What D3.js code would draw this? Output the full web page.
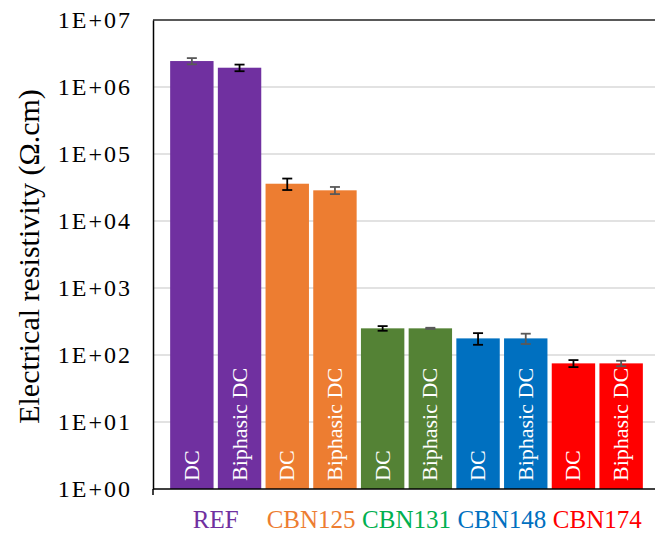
<!DOCTYPE html>
<html>
<head>
<meta charset="utf-8">
<script src="https://cdn.jsdelivr.net/npm/d3@7"></script>
<style>
  html, body { margin: 0; padding: 0; background: #fff; }
  svg { display: block; }
  svg text { font-family: "Liberation Serif", "DejaVu Serif", serif; }
</style>
</head>
<body>
<svg id="chart" width="655" height="534"></svg>
<script>
// ---- data ----
const groups = ["REF", "CBN125", "CBN131", "CBN148", "CBN174"];
const groupColors = ["#7030a0", "#ed7d31", "#548235", "#0070c0", "#ff0000"];
const groupLabelColors = ["#7030a0", "#ed7d31", "#00b050", "#0070c0", "#ff0000"];
const methods = ["DC", "Biphasic DC"];
const dcValues = [2.44e6, 3.6e4, 250, 177, 75];
const dcErrors = [0.26e6, 0.7e4, 20, 35, 9];
const biphasicValues = [1.94e6, 2.87e4, 250, 177, 75];
const biphasicErrors = [0.22e6, 0.35e4, 5, 31, 7];
const yTicks = [1e0, 1e1, 1e2, 1e3, 1e4, 1e5, 1e6, 1e7];
const yTitle = "Electrical resistivity (Ω.cm)";

(function () {
const rows = [];
groups.forEach((g, i) => {
  rows.push({id: g + "-0", group: i, method: methods[0], value: dcValues[i], err: dcErrors[i]});
  rows.push({id: g + "-1", group: i, method: methods[1], value: biphasicValues[i], err: biphasicErrors[i]});
});

const svg = d3.select("#chart");
const pL = 153, pR = 670, pT = 20, pB = 489;

const y = d3.scaleLog().domain([1, 1e7]).range([pB, pT]);
const x = d3.scaleBand().domain(rows.map(d => d.id)).range([168, 645])
  .paddingInner(0.09).paddingOuter(0.045);

// gridlines
svg.append("g").selectAll("line").data(yTicks.filter(t => t > 1 && t < 1e7)).join("line")
  .attr("x1", pL).attr("x2", pR)
  .attr("y1", d => y(d)).attr("y2", d => y(d))
  .attr("stroke", "#d9d9d9").attr("stroke-width", 1.5);

// top border
svg.append("line").attr("x1", pL).attr("x2", pR)
  .attr("y1", y(1e7)).attr("y2", y(1e7))
  .attr("stroke", "#595959").attr("stroke-width", 2);

// bars
svg.append("g").selectAll("rect").data(rows).join("rect")
  .attr("x", d => x(d.id)).attr("width", x.bandwidth())
  .attr("y", d => y(d.value)).attr("height", d => y(1) - y(d.value))
  .attr("fill", d => groupColors[d.group]);

// error bars
const eb = svg.append("g").selectAll("g").data(rows).join("g")
  .attr("stroke", (d, i) => (i === 0 ? "#595959" : (d.method === "DC" || i === 1 ? "#000" : "#595959")))
  .attr("stroke-width", 1.8);
eb.append("line")
  .attr("x1", d => x(d.id) + x.bandwidth() / 2).attr("x2", d => x(d.id) + x.bandwidth() / 2)
  .attr("y1", d => y(d.value + d.err)).attr("y2", d => y(d.value - d.err));
eb.append("line")
  .attr("x1", d => x(d.id) + x.bandwidth() / 2 - 5).attr("x2", d => x(d.id) + x.bandwidth() / 2 + 5)
  .attr("y1", d => y(d.value + d.err)).attr("y2", d => y(d.value + d.err));
eb.append("line")
  .attr("x1", d => x(d.id) + x.bandwidth() / 2 - 5).attr("x2", d => x(d.id) + x.bandwidth() / 2 + 5)
  .attr("y1", d => y(d.value - d.err)).attr("y2", d => y(d.value - d.err));

// in-bar labels
svg.append("g").selectAll("text").data(rows).join("text")
  .attr("transform", d => `translate(${x(d.id) + x.bandwidth() / 2 + 7},${pB - 8}) rotate(-90)`)
  .attr("fill", "#fff")
  .attr("font-size", 22)
  .attr("text-anchor", "start")
  .text(d => d.method);

// y axis
const yAxis = svg.append("g").attr("transform", `translate(${pL},0)`)
  .call(d3.axisLeft(y).tickValues(yTicks).tickSize(0).tickPadding(21)
    .tickFormat(d => "1E+" + String(Math.round(Math.log10(d))).padStart(2, "0")));
yAxis.attr("font-family", null);
yAxis.select(".domain").attr("stroke", "#000").attr("stroke-width", 1.5);
yAxis.selectAll("text").attr("font-size", 24).attr("letter-spacing", 2).attr("fill", "#000");

// x axis line
svg.append("line").attr("x1", pL).attr("x2", pR).attr("y1", pB).attr("y2", pB)
  .attr("stroke", "#000").attr("stroke-width", 1.5);
svg.append("line").attr("x1", pL).attr("x2", pL).attr("y1", pB).attr("y2", pB + 6)
  .attr("stroke", "#000").attr("stroke-width", 1.5);

// group labels
svg.append("g").selectAll("text").data(groups).join("text")
  .attr("x", g => (x(g + "-0") + x(g + "-1") + x.bandwidth()) / 2)
  .attr("y", 528)
  .attr("text-anchor", "middle")
  .attr("font-size", 25)
  .attr("fill", (g, i) => groupLabelColors[i])
  .text(g => g);

// y title
svg.append("text")
  .attr("transform", `translate(39,${(pT + pB) / 2 + 2}) rotate(-90)`)
  .attr("text-anchor", "middle")
  .attr("font-size", 30)
  .attr("fill", "#000")
  .text(yTitle);
})();
</script>
</body>
</html>
